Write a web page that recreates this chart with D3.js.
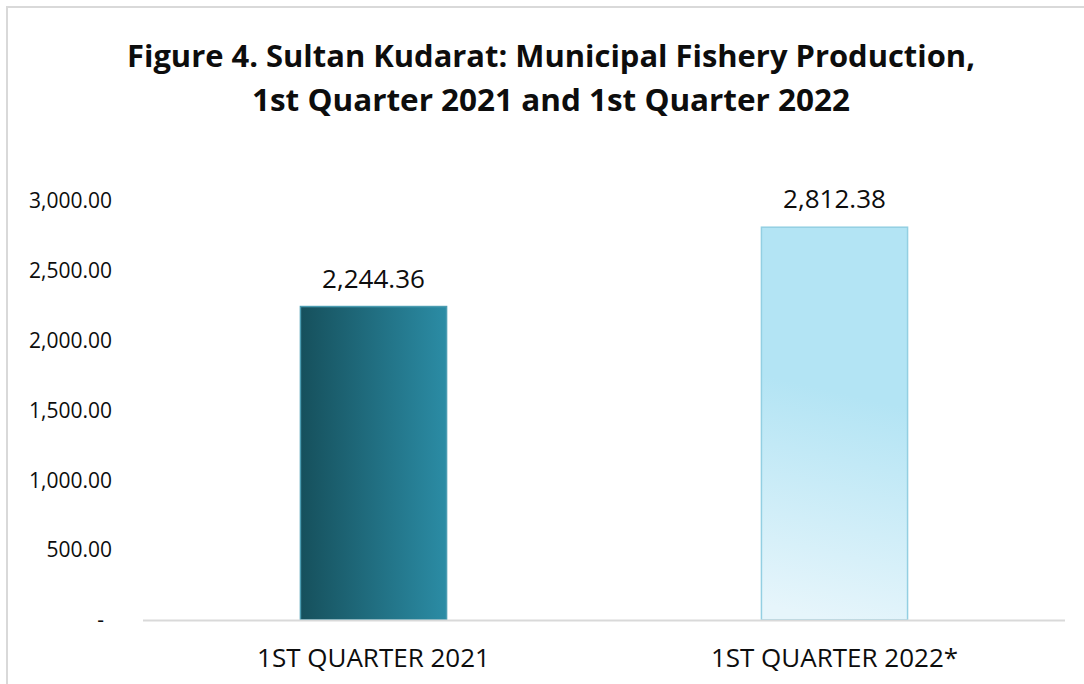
<!DOCTYPE html>
<meta charset="utf-8">
<html>
<head>
<script src="https://d3js.org/d3.v7.min.js"></script>
<style>
  body { margin: 0; background: #fff; }
  text { font-family: "Open Sans", sans-serif; fill: #0d0d0d; }
</style>
</head>
<body>
<div id="chart"></div>
<script>

// chart data
var categories = ["1ST QUARTER 2021", "1ST QUARTER 2022*"];
var values = [2244.36, 2812.38];
var yTicks = [0, 500, 1000, 1500, 2000, 2500, 3000];
var titleLines = ["Figure 4. Sultan Kudarat: Municipal Fishery Production,",
                  "1st Quarter 2021 and 1st Quarter 2022"];

var width = 1084,
    height = 684;

var svg = d3.select("#chart")
  .append("svg")
    .attr("width", width)
    .attr("height", height);

svg.append("rect")
    .attr("width", width)
    .attr("height", height)
    .attr("fill", "#fff");

// chart frame (only left/top are inside the picture)
svg.append("rect")
    .attr("x", 7)
    .attr("y", 7)
    .attr("width", 1200)
    .attr("height", 800)
    .attr("fill", "none")
    .attr("stroke", "#d9d9d9")
    .attr("stroke-width", 2);

var defs = svg.append("defs");

var g1 = defs.append("linearGradient")
    .attr("id", "grad0")
    .attr("x1", 0).attr("y1", 0).attr("x2", 1).attr("y2", 0);
g1.append("stop").attr("offset", "0%").attr("stop-color", "#16505c");
g1.append("stop").attr("offset", "100%").attr("stop-color", "#2b8ca5");

var g2 = defs.append("linearGradient")
    .attr("id", "grad1")
    .attr("x1", 0.52).attr("y1", 0.42).attr("x2", 0.47).attr("y2", 1);
g2.append("stop").attr("offset", "0%").attr("stop-color", "#b3e4f4");
g2.append("stop").attr("offset", "100%").attr("stop-color", "#e6f5fb");

var strokes = ["#4b9cb1", "#93cfe2"];

// scales
var x = d3.scaleBand()
    .domain(categories)
    .range([143, 1065])
    .paddingInner(0.683)
    .paddingOuter(0.683 / 2);

var y = d3.scaleLinear()
    .domain([0, 3000])
    .range([620, 201]);

// title
svg.selectAll("text.title")
    .data(titleLines)
    .enter().append("text")
    .attr("class", "title")
    .attr("x", 551)
    .attr("y", function(d, i) { return 67 + i * 44; })
    .attr("text-anchor", "middle")
    .style("font-size", "30px")
    .style("font-weight", "bold")
    .attr("textLength", function(d, i) { return i == 0 ? 848 : 598; })
    .attr("lengthAdjust", "spacingAndGlyphs")
    .text(function(d) { return d; });

// y axis labels (no line, no ticks)
var fmt = d3.format(",.2f");
var yAxis = d3.axisLeft(y)
    .tickValues(yTicks)
    .tickSize(0)
    .tickPadding(0)
    .tickFormat(function(d) { return d == 0 ? "-" : fmt(d); });

var ya = svg.append("g")
    .attr("transform", "translate(112,0)")
    .call(yAxis);
ya.select(".domain").remove();
ya.selectAll("text")
    .style("font-size", "21px")
    .style("font-family", "Open Sans")
    .attr("fill", "#0d0d0d")
    .attr("dx", function(d) { return d == 0 ? -8 : 0; });

// bars
svg.selectAll("rect.bar")
    .data(values)
    .enter().append("rect")
    .attr("class", "bar")
    .attr("x", function(d, i) { return x(categories[i]); })
    .attr("y", function(d) { return y(d); })
    .attr("width", x.bandwidth())
    .attr("height", function(d) { return y(0) - y(d); })
    .attr("fill", function(d, i) { return "url(#grad" + i + ")"; })
    .attr("stroke", function(d, i) { return strokes[i]; })
    .attr("stroke-width", 1.5);

// baseline
svg.append("line")
    .attr("x1", 143)
    .attr("x2", 1065)
    .attr("y1", y(0) + 0.5)
    .attr("y2", y(0) + 0.5)
    .attr("stroke", "#d9d9d9")
    .attr("stroke-width", 2);

// value labels
svg.selectAll("text.val")
    .data(values)
    .enter().append("text")
    .attr("class", "val")
    .attr("x", function(d, i) { return x(categories[i]) + x.bandwidth() / 2; })
    .attr("y", function(d) { return y(d) - 19; })
    .attr("text-anchor", "middle")
    .style("font-size", "26px")
    .text(function(d) { return fmt(d); });

// category labels
svg.selectAll("text.cat")
    .data(categories)
    .enter().append("text")
    .attr("class", "cat")
    .attr("x", function(d) { return x(d) + x.bandwidth() / 2; })
    .attr("y", 667)
    .attr("text-anchor", "middle")
    .style("font-size", "26px")
    .text(function(d) { return d; });

</script>
</body>
</html>
